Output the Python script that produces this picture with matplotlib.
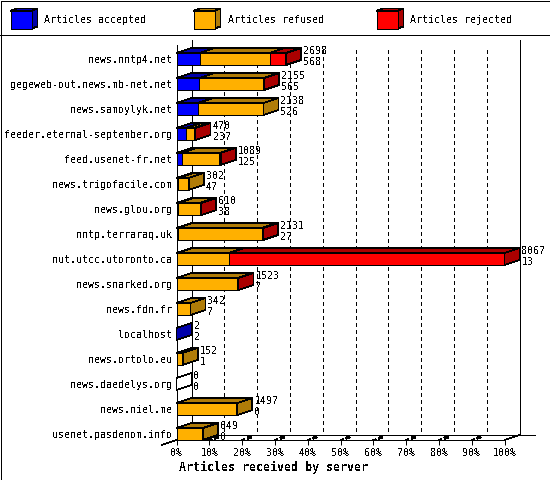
import matplotlib
matplotlib.use("Agg")
import matplotlib.pyplot as plt
from matplotlib.patches import Polygon, Rectangle
from matplotlib.ticker import FuncFormatter

servers = ["news.nntp4.net", "gegeweb-out.news.mb-net.net", "news.samoylyk.net",
           "feeder.eternal-september.org", "feed.usenet-fr.net", "news.trigofacile.com",
           "news.glou.org", "nntp.terraraq.uk", "nut.utcc.utoronto.ca", "news.snarked.org",
           "news.fdn.fr", "localhost", "news.ortolo.eu", "news.daedelys.org",
           "news.niel.me", "usenet.pasdenom.info"]
accepted = [568, 565, 526, 237, 125, 47, 38, 27, 13, 7, 7, 2, 1, 0, 0, 0]
refused = [1722, 1580, 1612, 190, 930, 255, 545, 2075, 1279, 1490, 335, 0, 151, 0, 1497, 649]
rejected = [408, 10, 0, 43, 34, 0, 27, 29, 6775, 26, 0, 0, 0, 0, 0, 0]
legend_names = ["Articles accepted", "Articles refused", "Articles rejected"]
pct_ticks = [0, 10, 20, 30, 40, 50, 60, 70, 80, 90, 100]

FRONT = ["#0000ff", "#ffb000", "#ff0000"]
DARK = ["#0000aa", "#b07c08", "#aa0000"]
LW = 0.72
EDGE = 0.55   # slanted edges come out too fat when aliased
MONO = "DejaVu Sans Mono"

plt.rcParams["text.antialiased"] = False
plt.rcParams["font.family"] = MONO
plt.rcParams["font.size"] = 7.2

totals = [a + b + c for a, b, c in zip(accepted, refused, rejected)]
xmax = max(totals)
dx = xmax * 15 / 328   # depth of the 3d effect
dy = 0.2
min_seg = xmax * 2 / 328   # thinner than this is only outline in the reference

fig = plt.figure(figsize=(5.5, 4.8), dpi=100)

# page frame and legend, in pixels
bg = fig.add_axes([0, 0, 1, 1])
bg.set_xlim(0, 550)
bg.set_ylim(480, 0)
bg.axis("off")
bg.add_patch(Rectangle((0.5, 0.5), 549, 479, fc="white", ec="black", lw=LW, aa=False))
bg.plot([0, 550], [35, 35], color="black", lw=LW, aa=False)
for k in range(3):
    x0 = 10.5 + 183 * k
    bg.add_patch(Polygon([[x0, 11], [x0 + 6, 8.5], [x0 + 27, 8.5], [x0 + 21, 11]], fc=DARK[k], ec="black", lw=EDGE, aa=False))
    bg.add_patch(Polygon([[x0 + 21, 11], [x0 + 27, 8.5], [x0 + 27, 26.5], [x0 + 21, 28.5]], fc=DARK[k], ec="black", lw=EDGE, aa=False))
    bg.add_patch(Rectangle((x0, 11), 21, 17.5, fc=FRONT[k], ec="black", lw=LW, aa=False))
    bg.text(x0 + 34, 20, legend_names[k], ha="left", va="center")

ax = fig.add_axes([176.5 / 550, 40 / 480, 328 / 550, 395 / 480])
ax.patch.set_visible(False)
ax.set_xlim(0, xmax)
ax.set_ylim(15.24, -0.56)
for s in ["top", "right"]:
    ax.spines[s].set_visible(False)
for s in ["left", "bottom"]:
    ax.spines[s].set_linewidth(LW)
    ax.spines[s].set_antialiased(False)

ax.set_yticks(range(len(servers)))
ax.set_yticklabels(servers)
ax.tick_params(axis="y", length=0, pad=3.2)
ax.set_xticks([p * xmax / 100 for p in pct_ticks])
ax.xaxis.set_major_formatter(FuncFormatter(lambda v, pos: "%d%%" % round(v * 100 / xmax)))
ax.tick_params(axis="x", length=3.6, width=LW, pad=2.2)
ax.set_xlabel("Articles received by server", fontweight="bold", fontsize=8.4)
ax.xaxis.set_label_coords(97 / 328, -27 / 395, transform=ax.transAxes)
ax.xaxis.label.set_va("center")

floor = 15.24
back = floor - dy
top = -0.56

# back wall, grid, floor
for p in pct_ticks[1:-1]:
    x = p * xmax / 100
    ax.plot([x + dx, x + dx], [-0.36, back], color="black", lw=LW, ls=(0, (4, 4)), aa=False, clip_on=False, zorder=1)
    ax.plot([x, x + 0.15 * dx], [floor, floor - 0.15 * dy], color="black", lw=EDGE, aa=False, clip_on=False, zorder=1)
    ax.plot([x + 0.42 * dx, x + 0.55 * dx], [floor - 0.42 * dy, floor - 0.55 * dy], color="black", lw=2 * LW, aa=False, clip_on=False, zorder=1)
ax.plot([dx, dx], [top - dy, back], color="black", lw=LW, aa=False, clip_on=False, zorder=1)
ax.plot([xmax + dx, xmax + dx], [top - dy, back], color="black", lw=LW, aa=False, clip_on=False, zorder=1)
ax.plot([dx, xmax + dx * 2], [back, back], color="black", lw=LW, aa=False, clip_on=False, zorder=1)
ax.plot([-dx, dx], [floor + dy, back], color="black", lw=EDGE, aa=False, clip_on=False, zorder=1)
ax.plot([xmax, xmax + dx], [floor, back], color="black", lw=EDGE, aa=False, clip_on=False, zorder=1)

# bars, front face plus top and side
h = 0.24
for i in range(len(servers)):
    z = 3 + i * 0.1
    left = 0
    last = None
    values = [accepted[i], refused[i], rejected[i]]
    for k, v in enumerate(values):
        if v == 0:
            continue
        # a sliver of blue in front of a longer bar does not show, only its outline would
        face = FRONT[k]
        if v < min_seg and k < 2 and values[k + 1] > 0:
            face = FRONT[k + 1]
        ax.add_patch(Polygon([[left, i - h], [left + dx, i - h - dy], [left + v + dx, i - h - dy], [left + v, i - h]],
                             fc=DARK[k], ec="black", lw=EDGE, aa=False, clip_on=False, zorder=z))
        ax.barh(i, v, 2 * h, left=left, color=face, edgecolor=face if face != FRONT[k] else "black",
                linewidth=LW, antialiased=False, zorder=z)
        left += v
        last = k
    ax.add_patch(Rectangle((0, i - h), left, 2 * h, fc="none", ec="black", lw=LW, aa=False, clip_on=False, zorder=z))
    side = "white" if last is None else DARK[last]
    ax.add_patch(Polygon([[left, i - h], [left + dx, i - h - dy], [left + dx, i + h - dy], [left, i + h]],
                         fc=side, ec="black", lw=EDGE, aa=False, clip_on=False, zorder=z))
    ax.annotate(str(totals[i]), (left + dx, i), xytext=(1.6, 5.8), textcoords="offset points",
                ha="left", va="center", zorder=10, annotation_clip=False)
    ax.annotate(str(accepted[i]), (left + dx, i), xytext=(1.6, -2.1), textcoords="offset points",
                ha="left", va="center", zorder=10, annotation_clip=False)

fig.savefig("out.png", dpi=100)
